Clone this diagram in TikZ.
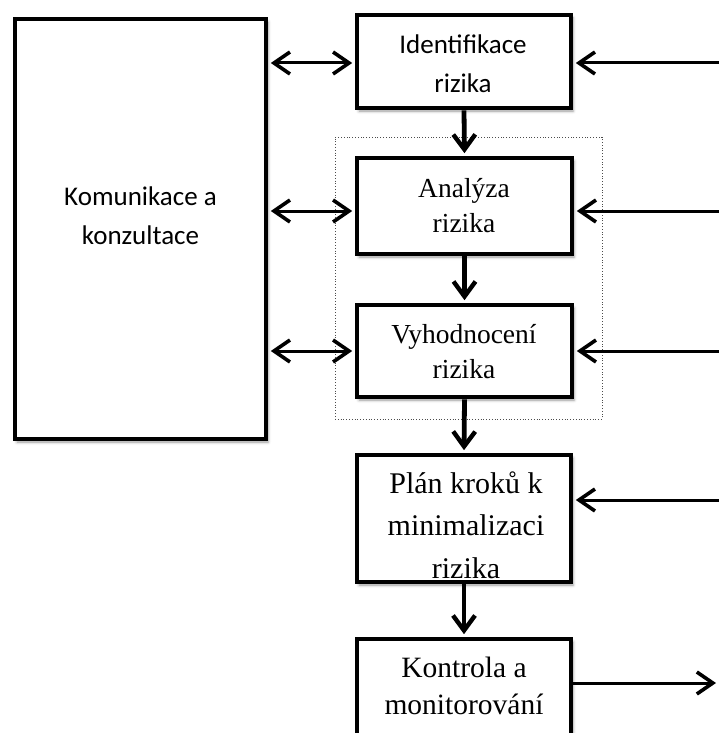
\documentclass[tikz,border=0pt]{standalone}
\usepackage{fontspec}
\setmainfont{Liberation Serif}
\newfontfamily\calibrifont{Carlito}
\usetikzlibrary{arrows.meta,shadows.blur}

\begin{document}
\begin{tikzpicture}[x=1pt,y=-1pt,
  box/.style={draw,line width=4.8pt,fill=white,inner sep=0pt,
    blur shadow={shadow xshift=2pt,shadow yshift=-3pt,shadow blur radius=3pt,shadow opacity=40}},
  sanstext/.style={font=\calibrifont\fontsize{27}{38.5}\selectfont,align=center,inner sep=0pt},
  seriftext/.style={font=\fontsize{27.5}{35}\selectfont,align=center,inner sep=0pt},
  bigtext/.style={font=\fontsize{30}{42.5}\selectfont,align=center,inner sep=0pt},
  htip/.tip={Straight Barb[length=16pt,width=22pt,line width=3.6pt]},
  vtip/.tip={Straight Barb[length=15pt,width=22pt,line width=4.4pt]},
  harrow/.style={line width=3pt,-{htip},shorten >=2.4pt},
  biarrow/.style={line width=3pt,{htip}-{htip},shorten >=2.4pt,shorten <=2.4pt},
  varrow/.style={line width=4.8pt,-{vtip},shorten >=2.4pt},
  group/.style={draw=black!70,dotted,line width=0.8pt}]

\useasboundingbox (0,0) rectangle (718,733);

% dotted frame around analysis and evaluation
\node[group,minimum width=267pt,minimum height=282pt,inner sep=0pt] (grp) at (468.5,278) {};

% boxes
\node[box,minimum width=251pt,minimum height=420pt] (kom) at (140.5,229) {};
\node[box,minimum width=214pt,minimum height=93pt] (id) at (464,61.5) {};
\node[box,minimum width=215pt,minimum height=96pt] (an) at (464.5,206) {};
\node[box,minimum width=215pt,minimum height=92pt] (vy) at (464.5,351) {};
\node[box,minimum width=214pt,minimum height=127pt] (pl) at (464,518.5) {};
\node[box,minimum width=214pt,minimum height=106pt] (ko) at (464,692) {};

% labels
\node[sanstext] (komt) at (140.5,215.5) {Komunikace a\\konzultace};
\node[sanstext] (idt) at (463,63.5) {Identifikace\\rizika};
\node[seriftext] (ant) at (464,206) {Analýza\\rizika};
\node[seriftext] (vyt) at (464,352) {Vyhodnocení\\rizika};
\begin{scope}
  % the last line of the plan label runs out of its text area
  \clip (pl.north west) rectangle ([yshift=-10.5pt]pl.south east);
  \node[bigtext] (plt) at (466,525) {Plán kroků k\\minimalizaci\\rizika};
\end{scope}
\node[bigtext,font=\fontsize{29.5}{37.5}\selectfont] (kot) at (464,686) {Kontrola a\\monitorování};

% main flow
\draw[varrow] (id.south) -- (an.north);
\draw[varrow] (an.south) -- (vy.north);
\draw[varrow] (vy.south) -- (pl.north);
\draw[varrow] (pl.south) -- (ko.north);

% inputs from the right
\coordinate (r1) at (725,63);
\coordinate (r2) at (725,211);
\coordinate (r3) at (725,351);
\coordinate (r4) at (725,500);
\coordinate (out) at (716,683);
\draw[harrow] (r1) -- (r1 -| id.east);
\draw[harrow] (r2) -- (r2 -| an.east);
\draw[harrow] (r3) -- (r3 -| vy.east);
\draw[harrow] (r4) -- (r4 -| pl.east);
\draw[line width=3pt,-{htip}] (out -| ko.east) -- (out);

% communication links
\draw[biarrow] (r1 -| kom.east) -- (r1 -| id.west);
\draw[biarrow] (r2 -| kom.east) -- (r2 -| an.west);
\draw[biarrow] (r3 -| kom.east) -- (r3 -| vy.west);
\end{tikzpicture}
\end{document}
